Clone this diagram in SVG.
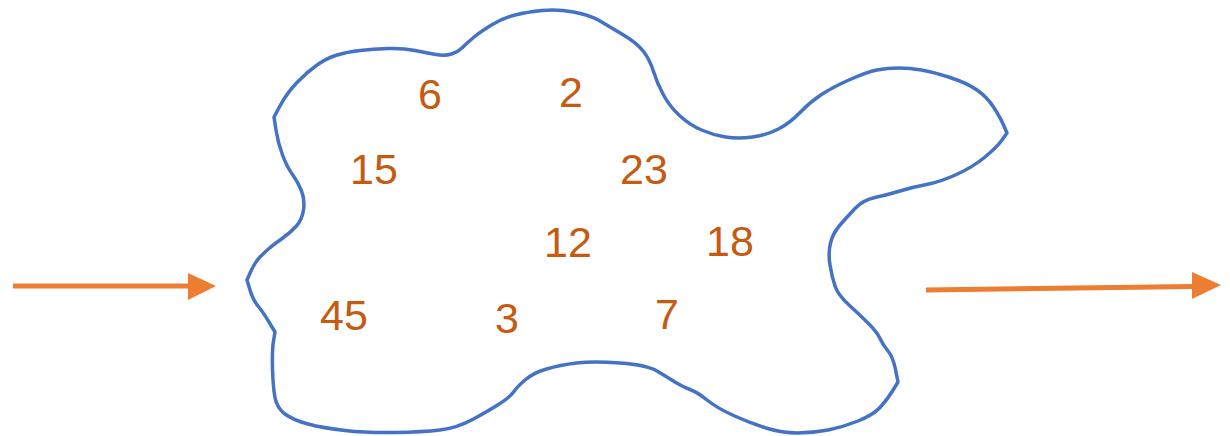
<svg xmlns="http://www.w3.org/2000/svg" width="1230" height="436" viewBox="0 0 1230 436">
<style>
.blob{fill:none;stroke:#4472C4;stroke-width:3.5;stroke-linejoin:round;stroke-linecap:round}
.num{font-family:"Liberation Sans",Arial,sans-serif;font-size:43px;fill:#C55A11;text-anchor:middle}
.arr{stroke:#ED7D31;stroke-width:5;fill:none}
.head{fill:#ED7D31}
</style>
<rect width="1230" height="436" fill="#fff"/>
<g id="region">
<path class="blob" d="M276,130 L274,117 L280.5,105 Q287,93 297,82.5 Q307,72 317,65 Q327,58 337,55 Q347,52 360,50.5 Q373,49 388,48.5 Q403,48 415,50.5 Q427,53 436,54.5 Q445,56 451.5,54 Q458,52 462.5,47.5 Q467,43 473.5,37.5 Q480,32 491.5,25 Q503,18 515,15 Q527,12 542,10.5 Q557,9 573.5,12 Q590,15 600,21 Q610,27 623.5,35 Q637,43 643.5,51.5 Q650,60 653.5,71.5 Q657,83 663.5,95 Q670,107 680,116 Q690,125 701.5,130 Q713,135 725.5,137 Q738,139 752.5,137 Q767,135 778.5,129 Q790,123 800,112.5 Q810,102 821.5,94.5 Q833,87 850,79.5 Q867,72 877,70 Q887,68 898.5,68 Q910,68 921.5,70 Q933,72 950,77.5 Q967,83 977,90 Q987,97 993.5,107 Q1000,117 1003.5,125 L1007,133 L1002,140 Q997,147 985,157 Q973,167 956.5,174.5 Q940,182 926.5,184.5 Q913,187 900,191 Q887,195 875,197.5 Q863,200 855,208.5 Q847,217 840,225 Q833,233 830.5,243 Q828,253 830,265 Q832,277 835,286 Q838,295 849,305 Q860,315 868.5,323.5 Q877,332 880,338.5 Q883,345 888,351 Q893,357 895.5,369.5 L898,382 L892.5,391 Q887,400 880,407.5 Q873,415 858,421 Q843,427 828,430 Q813,433 797.5,433 Q782,433 766,428 Q750,423 733.5,415.5 Q717,408 707,400 Q697,392 690,389.5 Q683,387 675,382 Q667,377 657,371 Q647,365 620,363 Q593,361 576.5,363 Q560,365 546.5,369 Q533,373 525,380 Q517,387 513.5,392 Q510,397 500,403.5 Q490,410 473.5,419 Q457,428 440,430 Q423,432 395,432.5 Q367,433 345,430.5 Q323,428 308,424 Q293,420 285,414 Q277,408 275,397.5 Q273,387 272.5,368.5 Q272,350 273.5,341 L275,332 L269,322 Q263,312 258,306 Q253,300 250,290 L247,280 L251,271 Q255,262 260,257 Q265,252 269,248.5 Q273,245 281.5,239 Q290,233 296,226.5 Q302,220 303.5,210 Q305,200 301.5,191 Q298,182 292.5,174.5 Q287,167 282.5,155 Q278,143 276,130 Z"/>
</g>
<g id="numbers">
<text class="num" x="430" y="109">6</text>
<text class="num" x="571" y="107">2</text>
<text class="num" x="374" y="184">15</text>
<text class="num" x="644" y="184">23</text>
<text class="num" x="568" y="257">12</text>
<text class="num" x="730" y="256">18</text>
<text class="num" x="344" y="330">45</text>
<text class="num" x="507" y="333">3</text>
<text class="num" x="667" y="329">7</text>
</g>
<g id="connectors">
<line class="arr" x1="13" y1="286" x2="190" y2="286"/>
<polygon class="head" points="188,273 216,286 188,300"/>
<line class="arr" x1="926" y1="290" x2="1194" y2="286.5"/>
<polygon class="head" points="1192,272 1221,285 1192,299"/>
</g>
</svg>
